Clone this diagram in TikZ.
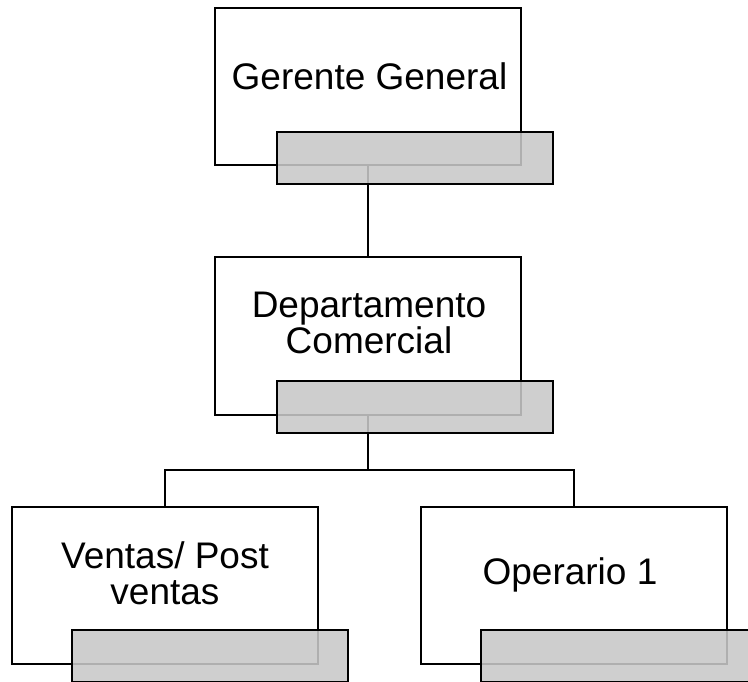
\documentclass[tikz,border=0pt]{standalone}
\usepackage{fontspec}
\setmainfont{Liberation Sans}
\definecolor{tabgray}{RGB}{200,200,200}
\tikzset{
  unit/.style={draw, line width=2pt, fill=white, minimum width=306pt, minimum height=157pt, inner sep=0pt, outer sep=0pt},
  tab/.style={draw, line width=2pt, fill=tabgray, fill opacity=0.88, minimum width=276pt, minimum height=52pt, inner sep=0pt, outer sep=0pt},
  title/.style={align=center, font=\fontsize{37}{36}\selectfont, inner sep=0pt},
  link/.style={line width=2pt}
}
\begin{document}
\begin{tikzpicture}[x=1pt,y=-1pt]
\useasboundingbox (0,0) rectangle (748,682);
\clip (0,0) rectangle (748,682);

% boxes
\node[unit] (gg) at (368,87) {};
\node[title] (ggtext) at (369.5,76) {Gerente General};

\node[unit] (dc) at (368,336) {};
\node[title] (dctext) at (369,323) {Departamento\\Comercial};

\node[unit] (vp) at (164.5,585.5) {};
\node[title] (vptext) at (165,573) {Ventas/ Post\\ventas};

\node[unit] (op) at (574,585.5) {};
\node[title] (optext) at (570,574.5) {Operario 1};

% connectors
\coordinate (fork) at (368,470);
\draw[link] (gg.south) -- (dc.north);
\draw[link] (dc.south) -- (fork) -| (vp.north);
\draw[link] (fork) -| (op.north);

% tabs on top
\node[tab] (ggtab) at (415,158) {};
\node[tab] (dctab) at (415,407) {};
\node[tab] (vptab) at (210,656) {};
\node[tab] (optab) at (619,656) {};
\end{tikzpicture}
\end{document}
